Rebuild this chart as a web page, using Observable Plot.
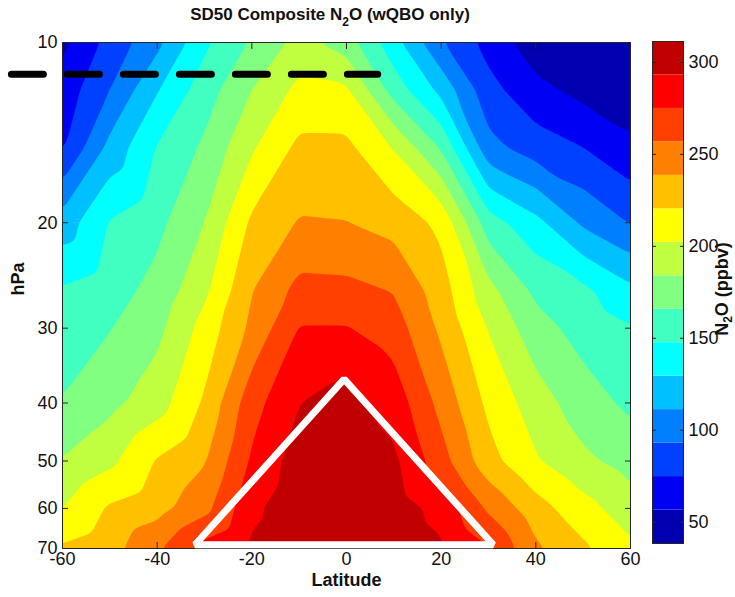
<!DOCTYPE html>
<html>
<head>
<meta charset="utf-8">
<script src="https://cdn.jsdelivr.net/npm/d3@7"></script>
<script src="https://cdn.jsdelivr.net/npm/@observablehq/plot@0.6"></script>
<style>
  body { margin: 0; background: #fff; }
  #wrap { position: relative; width: 735px; height: 597px; overflow: hidden; background: #fff;
          font-family: "Liberation Sans", Arial, Helvetica, sans-serif; }
  #title { position: absolute; left: 0; top: 5px; width: 660px; text-align: center;
           font-weight: bold; font-size: 17px; line-height: 20px; color: #111; white-space: nowrap; }
  #title .sub { font-size: 12px; position: relative; top: 6px; }
  #main, #cbar { position: absolute; top: 0; }
  #main { left: 0; }
  #cbar { left: 640px; }
  #cblabel { position: absolute; left: 662px; top: 279px; width: 120px; height: 20px; line-height: 20px;
             text-align: center; font-weight: bold; font-size: 18px; color: #111;
             transform: rotate(-90deg); transform-origin: 50% 50%; white-space: nowrap; }
  #cblabel .sub { font-size: 12px; position: relative; top: 4px; }
</style>
</head>
<body>
<div id="wrap">
  <div id="main"></div>
  <div id="cbar"></div>
  <div id="title">SD50 Composite N<span class="sub">2</span>O (wQBO only)</div>
  <div id="cblabel">N<span class="sub">2</span>O (ppbv)</div>
</div>
<script>
// ---- data ----
const latitudes = [-60, -50, -40, -30, -20, -10, 0, 10, 20, 30, 40, 50, 60];
const pressures = [10, 12, 15, 20, 26, 30, 40, 50, 60, 70];
// N2O (ppbv), one row per pressure level, one column per latitude
const n2o = [
  [ 52,  81, 106, 144, 168, 190, 175, 136,  95,  68,  46,  42,  39],
  [ 64,  93, 128, 157, 184, 207, 205, 158, 124,  81,  62,  51,  45],
  [ 73, 117, 149, 169, 200, 225, 225, 201, 164,  99,  84,  75,  61],
  [119, 149, 161, 184, 224, 240, 239, 232, 216, 156, 135, 108,  92],
  [150, 158, 172, 198, 238, 263, 262, 256, 229, 190, 162, 152, 134],
  [155, 165, 179, 209, 243, 276, 276, 266, 235, 201, 173, 159, 149],
  [167, 179, 194, 223, 268, 293, 300, 286, 251, 216, 193, 174, 162],
  [185, 198, 222, 237, 278, 302, 306, 297, 264, 227, 204, 188, 177],
  [202, 223, 232, 251, 289, 306, 310, 303, 287, 254, 228, 209, 192],
  [223, 232, 254, 282, 297, 306, 311, 305, 296, 276, 242, 224, 206]
];
// contour levels (15 bands)
const levels = [38.4, 56.6, 74.8, 93.0, 111.2, 129.4, 147.6, 165.8, 184.0, 202.2, 220.4, 238.6, 256.8, 275.0, 293.2, 311.4];
const jetColors = ["#0000b0", "#0000f5", "#0040ff", "#0080ff", "#00c0ff", "#00ffff", "#40ffc0",
                   "#80ff80", "#c0ff40", "#ffff00", "#ffc000", "#ff8000", "#ff4000", "#ff0000", "#c00000"];
const xTicks = [-60, -40, -20, 0, 20, 40, 60];
const yTicks = [10, 20, 30, 40, 50, 60, 70];
const cbarTicks = [50, 100, 150, 200, 250, 300];
// annotations
const dashLat = [-70.8, 6.6];
const dashP = [11.3, 11.3];
const triLat = [-32, -0.5, 31];
const triP = [69, 36.5, 69];

// ---- build tables ----
const points = pressures.flatMap((p, i) => latitudes.map((lat, j) => ({lat, p, v: n2o[i][j]})));
const dashData = dashLat.map((lat, i) => ({lat, p: dashP[i]}));
const triData = triLat.map((lat, i) => ({lat, p: triP[i]}));
const bands = jetColors.map((c, i) => ({lo: levels[i], hi: levels[i + 1], c}));

const font = "'Liberation Sans', Arial, Helvetica, sans-serif";
const axisColor = "#262626";

const main = Plot.plot({
  width: 735, height: 597,
  marginLeft: 62, marginRight: 105, marginTop: 42, marginBottom: 49,
  style: {fontFamily: font, fontSize: "18px", background: "transparent", color: "#111", overflow: "visible"},
  x: {domain: [-60, 60], label: null},
  y: {type: "log", domain: [10, 70], reverse: true, label: null},
  color: {type: "threshold", domain: levels.slice(1, -1), range: jetColors},
  marks: [
    Plot.contour(points, {x: "lat", y: "p", fill: "v", interpolate: "barycentric", blur: 3,
                          thresholds: levels, pixelSize: 1, stroke: "none"}),
    Plot.frame({stroke: axisColor, strokeWidth: 1}),
    Plot.axisX({anchor: "bottom", ticks: xTicks, tickSize: 0, tickPadding: 4, tickFormat: d => String(d), label: null}),
    Plot.axisX({anchor: "bottom", ticks: xTicks, tickSize: -6, tickFormat: () => "", label: null, stroke: axisColor}),
    Plot.axisX({anchor: "top", ticks: xTicks, tickSize: -6, tickFormat: () => "", label: null, stroke: axisColor}),
    Plot.axisY({anchor: "left", ticks: yTicks, tickSize: 0, tickPadding: 5, tickFormat: d => String(d), label: null}),
    Plot.axisY({anchor: "left", ticks: yTicks, tickSize: -6, tickFormat: () => "", label: null, stroke: axisColor}),
    Plot.axisY({anchor: "right", ticks: yTicks, tickSize: -6, tickFormat: () => "", label: null, stroke: axisColor}),
    Plot.line(triData, {x: "lat", y: "p", curve: "linear-closed", stroke: "white", strokeWidth: 7, strokeLinejoin: "miter"}),
    Plot.line(dashData, {x: "lat", y: "p", stroke: "black", strokeWidth: 7, strokeDasharray: "32,24"}),
    Plot.text(["Latitude"], {frameAnchor: "bottom", dy: 37, fontWeight: "bold", fontSize: 18, fill: "#111"}),
    Plot.text(["hPa"], {frameAnchor: "left", dx: -44, rotate: -90, fontWeight: "bold", fontSize: 18, fill: "#111"})
  ]
});
document.getElementById("main").append(main);

const cbar = Plot.plot({
  width: 95, height: 597,
  marginLeft: 12, marginRight: 52, marginTop: 41, marginBottom: 54,
  style: {fontFamily: font, fontSize: "18px", background: "transparent", color: "#111", overflow: "visible"},
  x: {axis: null},
  y: {domain: [levels[0], levels[levels.length - 1]], label: null},
  color: {type: "identity"},
  marks: [
    Plot.rect(bands, {y1: "lo", y2: "hi", fill: "c"}),
    Plot.frame({stroke: axisColor, strokeWidth: 1}),
    Plot.axisY({anchor: "right", ticks: cbarTicks, tickSize: 0, tickPadding: 5, tickFormat: d => String(d), label: null}),
    Plot.axisY({anchor: "right", ticks: cbarTicks, tickSize: -4, tickFormat: () => "", label: null, stroke: axisColor}),
    Plot.axisY({anchor: "left", ticks: cbarTicks, tickSize: -4, tickFormat: () => "", label: null, stroke: axisColor})
  ]
});
document.getElementById("cbar").append(cbar);
</script>
</body>
</html>
